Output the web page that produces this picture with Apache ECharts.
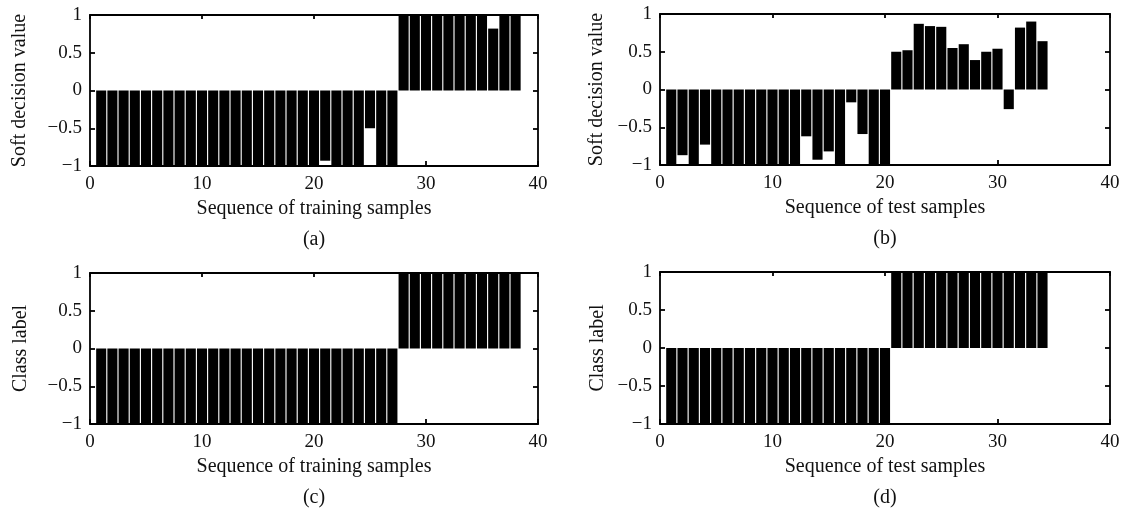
<!DOCTYPE html>
<html>
<head>
<meta charset="utf-8">
<script src="https://cdn.jsdelivr.net/npm/echarts@6/dist/echarts.min.js"></script>
<style>
html,body{margin:0;padding:0;background:#fff}
#main{width:1124px;height:512px}
</style>
</head>
<body>
<div id="main"></div>
<script>
// soft decision values, training samples 1..38
var trainSoft = [-1,-1,-1,-1,-1,-1,-1,-1,-1,-1,
                 -1,-1,-1,-1,-1,-1,-1,-1,-1,-1,
                 -0.93,-1,-1,-1,-0.5,-1,-1,
                 1,1,1,1,1,1,1,1,0.82,1,1];
// soft decision values, test samples 1..34
var testSoft = [-1,-0.87,-1,-0.73,-1,-1,-1,-1,-1,-1,
                -1,-1,-0.62,-0.93,-0.82,-1,-0.17,-0.59,-1,-1,
                0.5,0.52,0.87,0.84,0.83,0.55,0.6,0.39,0.5,0.54,
                -0.26,0.82,0.9,0.64];
// class labels
var trainLabel = [-1,-1,-1,-1,-1,-1,-1,-1,-1,-1,
                  -1,-1,-1,-1,-1,-1,-1,-1,-1,-1,
                  -1,-1,-1,-1,-1,-1,-1,
                  1,1,1,1,1,1,1,1,1,1,1];
var testLabel = [-1,-1,-1,-1,-1,-1,-1,-1,-1,-1,
                 -1,-1,-1,-1,-1,-1,-1,-1,-1,-1,
                 1,1,1,1,1,1,1,1,1,1,1,1,1,1];

var xRange = [0, 40], xStep = 10;
var yRange = [-1, 1], yStep = 0.5;

var panels = [
    {data: trainSoft, yName: 'Soft decision value', xName: 'Sequence of training samples', cap: '(a)', left: 90, top: 15, width: 448, height: 151, yGap: 60},
    {data: testSoft, yName: 'Soft decision value', xName: 'Sequence of test samples', cap: '(b)', left: 660, top: 14, width: 450, height: 151, yGap: 53},
    {data: trainLabel, yName: 'Class label', xName: 'Sequence of training samples', cap: '(c)', left: 90, top: 273, width: 448, height: 151, yGap: 59},
    {data: testLabel, yName: 'Class label', xName: 'Sequence of test samples', cap: '(d)', left: 660, top: 272, width: 450, height: 152, yGap: 52}
];

var font = '"Liberation Serif", "Times New Roman", serif';
var lineSt = {color: '#000', width: 1.8};

function minus(v){
    return String(v).replace('-', '\u2212');
}

var grid = [], xAxis = [], yAxis = [], series = [], graphic = [];
panels.forEach(function(p, i){
    grid.push({left: p.left, top: p.top, width: p.width, height: p.height});
    // bottom + top
    xAxis.push({
        type: 'value', gridIndex: i, position: 'bottom', min: xRange[0], max: xRange[1], interval: xStep,
        axisLine: {onZero: false, lineStyle: lineSt},
        axisTick: {inside: true, length: 5, lineStyle: lineSt},
        axisLabel: {color: '#111', fontSize: 19, fontFamily: font, margin: 9},
        splitLine: {show: false},
        name: p.xName, nameLocation: 'middle', nameGap: 33,
        nameTextStyle: {color: '#111', fontSize: 20, fontFamily: font}
    });
    xAxis.push({
        type: 'value', gridIndex: i, position: 'top', min: xRange[0], max: xRange[1], interval: xStep,
        axisLine: {onZero: false, lineStyle: lineSt},
        axisTick: {inside: true, length: 4, lineStyle: lineSt},
        axisLabel: {show: false}, splitLine: {show: false}
    });
    // left + right
    yAxis.push({
        type: 'value', gridIndex: i, position: 'left', min: yRange[0], max: yRange[1], interval: yStep,
        axisLine: {show: true, onZero: false, lineStyle: lineSt},
        axisTick: {show: true, inside: true, length: 5, lineStyle: lineSt},
        axisLabel: {color: '#111', fontSize: 19, fontFamily: font, margin: 8, formatter: minus},
        splitLine: {show: false},
        name: p.yName, nameLocation: 'middle', nameGap: p.yGap,
        nameTextStyle: {color: '#111', fontSize: 20, fontFamily: font}
    });
    yAxis.push({
        type: 'value', gridIndex: i, position: 'right', min: yRange[0], max: yRange[1], interval: yStep,
        axisLine: {show: true, onZero: false, lineStyle: lineSt},
        axisTick: {show: true, inside: true, length: 5, lineStyle: lineSt},
        axisLabel: {show: false}, splitLine: {show: false}
    });
    series.push({
        type: 'bar', xAxisIndex: i * 2, yAxisIndex: i * 2,
        barWidth: '90%', silent: true,
        itemStyle: {color: '#000'},
        data: p.data.map(function(v, k){ return [k + 1, v]; })
    });
    graphic.push({
        type: 'text', x: p.left + p.width / 2, y: p.top + p.height + 74,
        style: {text: p.cap, fill: '#111', fontSize: 20, fontFamily: font, align: 'center', verticalAlign: 'middle'}
    });
});

var myChart = echarts.init(document.getElementById('main'));
myChart.setOption({
    animation: false,
    backgroundColor: '#fff',
    grid: grid,
    xAxis: xAxis,
    yAxis: yAxis,
    series: series,
    graphic: graphic
});
</script>
</body>
</html>
